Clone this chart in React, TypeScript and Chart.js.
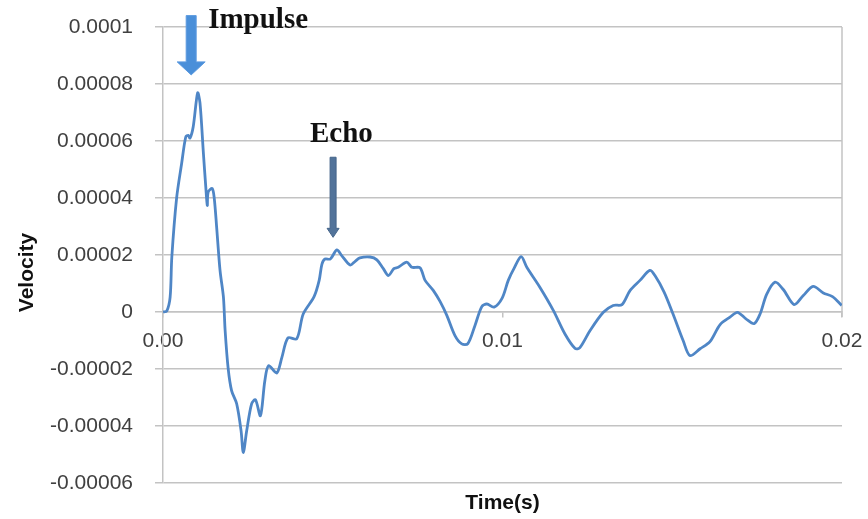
import React, { useEffect, useRef } from "react";
import { Chart, registerables } from "chart.js";

Chart.register(...registerables);

// Sample times (s)
const timeS = [
  0, 0.00011, 0.00021, 0.00026, 0.0004, 0.00055, 0.00067, 0.000745, 0.000795, 0.00089,
  0.00102, 0.00109, 0.00119, 0.00126, 0.001305, 0.00133, 0.00145, 0.00151, 0.00158, 0.00168,
  0.00178, 0.00183, 0.00192, 0.00202, 0.00217, 0.0023, 0.002365, 0.002465, 0.00261, 0.002725,
  0.00287, 0.003, 0.00311, 0.00335, 0.0035, 0.00368, 0.00394, 0.00413, 0.00445, 0.0046,
  0.00468, 0.00477, 0.00493, 0.00512, 0.00527, 0.00551, 0.00566, 0.0058, 0.0061, 0.0063,
  0.00649, 0.00664, 0.0068, 0.00693, 0.00718, 0.00733, 0.00757, 0.00772, 0.00796, 0.00816,
  0.00836, 0.0086, 0.0088, 0.00898, 0.00919, 0.00939, 0.00954, 0.00975, 0.00999, 0.01017,
  0.01034, 0.01055, 0.01072, 0.0111, 0.0115, 0.01184, 0.01214, 0.01228, 0.01258, 0.01297,
  0.01326, 0.01352, 0.01376, 0.01405, 0.01434, 0.01449, 0.01476, 0.01502, 0.01532, 0.01552,
  0.01582, 0.01611, 0.01641, 0.0167, 0.01692, 0.01717, 0.01741, 0.01759, 0.01778, 0.01803,
  0.01827, 0.01859, 0.01886, 0.01915, 0.01945, 0.01972, 0.01999,
];

// Measured velocity at each sample time
const velocity = [
  0, 0.03e-5, 0.52e-5, 1.93e-5, 3.99e-5, 5.22e-5, 6.14e-5, 6.2e-5, 6.1e-5, 6.5e-5,
  7.69e-5, 7.33e-5, 5.57e-5, 4.39e-5, 3.74e-5, 4.21e-5, 4.33e-5, 3.99e-5, 2.98e-5, 1.46e-5,
  0.52e-5, -0.65e-5, -1.99e-5, -2.76e-5, -3.22e-5, -4.17e-5, -4.93e-5, -4.17e-5, -3.22e-5, -3.08e-5,
  -3.64e-5, -2.41e-5, -1.88e-5, -2.14e-5, -1.6e-5, -0.91e-5, -0.94e-5, -0.07e-5, 0.54e-5, 1.11e-5,
  1.67e-5, 1.86e-5, 1.86e-5, 2.18e-5, 1.97e-5, 1.65e-5, 1.78e-5, 1.9e-5, 1.93e-5, 1.83e-5,
  1.52e-5, 1.28e-5, 1.52e-5, 1.57e-5, 1.75e-5, 1.57e-5, 1.55e-5, 1.11e-5, 0.76e-5, 0.37e-5,
  -0.12e-5, -0.83e-5, -1.12e-5, -1.11e-5, -0.47e-5, 0.19e-5, 0.28e-5, 0.17e-5, 0.49e-5, 1.11e-5,
  1.53e-5, 1.94e-5, 1.56e-5, 0.87e-5, 0.05e-5, -0.77e-5, -1.28e-5, -1.25e-5, -0.65e-5, -0.01e-5,
  0.23e-5, 0.26e-5, 0.76e-5, 1.11e-5, 1.46e-5, 1.28e-5, 0.7e-5, -0.06e-5, -1.0e-5, -1.53e-5,
  -1.29e-5, -1.04e-5, -0.44e-5, -0.18e-5, -0.01e-5, -0.24e-5, -0.41e-5, -0.06e-5, 0.62e-5, 1.05e-5,
  0.79e-5, 0.26e-5, 0.58e-5, 0.9e-5, 0.67e-5, 0.54e-5, 0.23e-5,
];

// Axis ticks
const xTickLabels = ["0.00", "0.01", "0.02"];
const yTickLabels = [
  "-0.00006", "-0.00004", "-0.00002", "0", "0.00002", "0.00004", "0.00006", "0.00008", "0.0001",
];
const X_MIN = 0;
const X_MAX = 0.02;
const X_STEP = 0.01;
const Y_MIN = -0.00006;
const Y_MAX = 0.0001;
const Y_STEP = 0.00002;

// Annotation anchors (time, velocity)
const impulseArrow = { t: 0.00083, tail: 0.000104, tip: 0.0000832 };
const impulseLabel = { t: 0.00133, v: 0.0000995, text: "Impulse" };
const echoArrow = { t: 0.00501, tail: 0.0000543, tip: 0.0000262 };
const echoLabel = { t: 0.00433, v: 0.0000598, text: "Echo" };

const GRID = "#c3c3c3";
const TICK_TEXT = "#404040";
const SANS = "'Liberation Sans', Arial, sans-serif";

function drawDownArrow(
  ctx: CanvasRenderingContext2D,
  x: number,
  yTail: number,
  yTip: number,
  shaft: number,
  head: number,
  headLen: number,
  fill: string,
  edge: string
) {
  ctx.beginPath();
  ctx.moveTo(x - shaft / 2, yTail);
  ctx.lineTo(x + shaft / 2, yTail);
  ctx.lineTo(x + shaft / 2, yTip - headLen);
  ctx.lineTo(x + head / 2, yTip - headLen);
  ctx.lineTo(x, yTip);
  ctx.lineTo(x - head / 2, yTip - headLen);
  ctx.lineTo(x - shaft / 2, yTip - headLen);
  ctx.closePath();
  ctx.fillStyle = fill;
  ctx.fill();
  ctx.strokeStyle = edge;
  ctx.lineWidth = 1;
  ctx.stroke();
}

const notesPlugin = {
  id: "notes",
  beforeDatasetsDraw(chart: any) {
    const { ctx, scales } = chart;
    const x = scales.x;
    const y = scales.y;
    // right-hand frame line down to the zero line
    ctx.save();
    ctx.strokeStyle = GRID;
    ctx.lineWidth = 1.5;
    ctx.beginPath();
    ctx.moveTo(x.right, y.getPixelForValue(Y_MAX));
    ctx.lineTo(x.right, y.getPixelForValue(0) + 5);
    ctx.stroke();
    ctx.restore();
  },
  afterDatasetsDraw(chart: any) {
    const { ctx, scales } = chart;
    const x = scales.x;
    const y = scales.y;
    ctx.save();
    drawDownArrow(
      ctx,
      x.getPixelForValue(impulseArrow.t),
      y.getPixelForValue(impulseArrow.tail),
      y.getPixelForValue(impulseArrow.tip),
      10,
      28,
      13,
      "#4a8fd9",
      "#5d9be0"
    );
    drawDownArrow(
      ctx,
      x.getPixelForValue(echoArrow.t),
      y.getPixelForValue(echoArrow.tail),
      y.getPixelForValue(echoArrow.tip),
      6,
      12,
      9,
      "#52739a",
      "#45658a"
    );
    ctx.fillStyle = "#111111";
    ctx.textAlign = "left";
    ctx.textBaseline = "alphabetic";
    ctx.font = "bold 29px 'Liberation Serif', 'Times New Roman', serif";
    ctx.fillText(impulseLabel.text, x.getPixelForValue(impulseLabel.t), y.getPixelForValue(impulseLabel.v));
    ctx.fillText(echoLabel.text, x.getPixelForValue(echoLabel.t), y.getPixelForValue(echoLabel.v));
    ctx.restore();
  },
};

export default function App() {
  const canvasRef = useRef<HTMLCanvasElement | null>(null);

  useEffect(() => {
    document.body.style.margin = "0";
    const canvas = canvasRef.current;
    if (!canvas) return;
    const points = timeS.map((t, i) => ({ x: t, y: velocity[i] }));

    const chart = new Chart(canvas, {
      type: "line",
      data: {
        datasets: [
          {
            data: points,
            borderColor: "#4f86c6",
            borderWidth: 2.8,
            pointRadius: 0,
            tension: 0.3,
            fill: false,
          },
        ],
      },
      options: {
        responsive: false,
        animation: false,
        events: [],
        layout: { padding: { top: 27, right: 26, bottom: 0, left: 0 } },
        plugins: {
          legend: { display: false },
          tooltip: { enabled: false },
          title: {
            display: true,
            text: "Time(s)",
            position: "bottom",
            fullSize: false,
            color: "#111111",
            font: { family: SANS, size: 21, weight: "bold" },
            padding: { top: 8, bottom: 2.8 },
          },
        },
        scales: {
          x: {
            type: "linear",
            position: { y: 0 },
            min: X_MIN,
            max: X_MAX,
            afterFit: (s: any) => {
              s.height = 0;
              s.paddingLeft = 0;
              s.paddingRight = 0;
              s.paddingTop = 0;
              s.paddingBottom = 0;
            },
            grid: {
              drawOnChartArea: false,
              drawTicks: true,
              tickLength: 5,
              color: GRID,
              lineWidth: 1.5,
            },
            border: { display: true, color: GRID, width: 1.5 },
            ticks: {
              stepSize: X_STEP,
              padding: 12,
              maxRotation: 0,
              autoSkip: false,
              color: TICK_TEXT,
              font: { family: SANS, size: 21 },
              callback: (value: any) =>
                xTickLabels[Math.round((Number(value) - X_MIN) / X_STEP)] ?? "",
            },
          },
          y: {
            type: "linear",
            min: Y_MIN,
            max: Y_MAX,
            afterFit: (s: any) => {
              s.width = 163;
              s.paddingTop = 0;
              s.paddingBottom = 0;
            },
            grid: { color: GRID, lineWidth: 1.5, tickLength: 8 },
            border: { display: true, color: GRID, width: 1.5 },
            title: {
              display: true,
              text: "Velocity      ",
              color: "#111111",
              font: { family: SANS, size: 21, weight: "bold" },
              padding: { top: 15, bottom: 0 },
            },
            ticks: {
              stepSize: Y_STEP,
              padding: 22,
              autoSkip: false,
              color: TICK_TEXT,
              font: { family: SANS, size: 21 },
              callback: (value: any) =>
                yTickLabels[Math.round((Number(value) - Y_MIN) / Y_STEP)] ?? "",
            },
          },
        },
      },
      plugins: [notesPlugin],
    } as any);

    return () => chart.destroy();
  }, []);

  return (
    <div style={{ width: 868, height: 519, background: "#ffffff" }}>
      <canvas ref={canvasRef} width={868} height={519} />
    </div>
  );
}
